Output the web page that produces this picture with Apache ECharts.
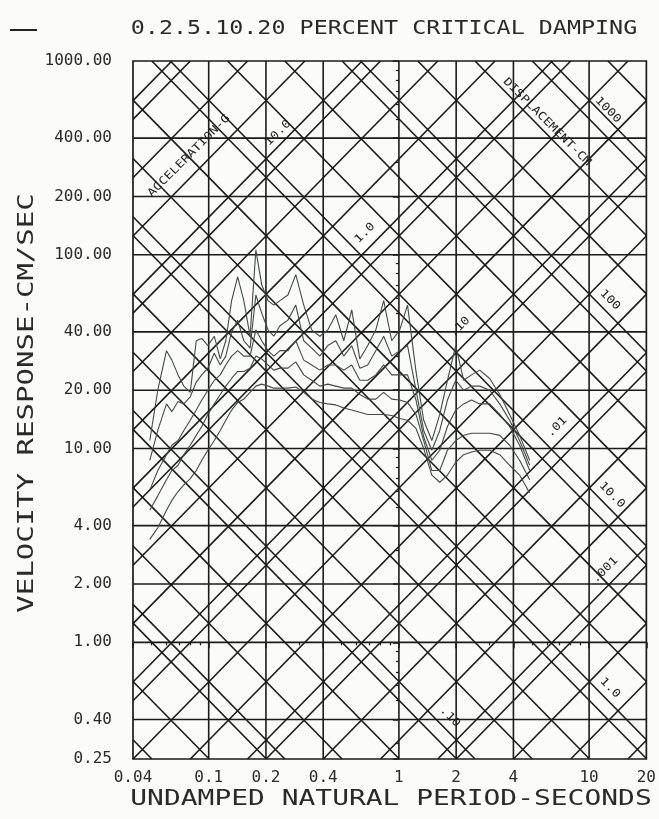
<!DOCTYPE html>
<html>
<head>
<meta charset="utf-8">
<script src="https://cdn.jsdelivr.net/npm/echarts@6/dist/echarts.min.js"></script>
<style>
  html, body { margin: 0; padding: 0; background: #fbfbf8; }
  #chart { width: 659px; height: 819px; }
</style>
</head>
<body>
<div id="chart"></div>
<script>
// 周期 (s)
const periods = [0.049, 0.054, 0.060, 0.064, 0.069, 0.074, 0.080, 0.086, 0.092, 0.099,
  0.107, 0.115, 0.123, 0.132, 0.142, 0.153, 0.165, 0.177, 0.190, 0.205,
  0.220, 0.237, 0.261, 0.287, 0.316, 0.348, 0.384, 0.423, 0.466, 0.513,
  0.565, 0.623, 0.686, 0.756, 0.832, 0.917, 1.01, 1.11, 1.23, 1.35,
  1.49, 1.64, 1.80, 1.99, 2.19, 2.41, 2.66, 3.00, 3.39, 3.82, 4.31, 4.87]

// 速度反应 cm/s, 阻尼 0, 2, 5, 10, 20 %
const damp0 = [11, 20, 32, 28.6, 24, 21, 19.5, 36, 37, 34,
  38, 29, 36, 58, 77, 58, 38, 106, 70, 58,
  55, 58, 62, 79, 55, 41, 38, 41, 49, 36,
  52, 29, 34, 41, 58, 36, 41, 55, 25, 14,
  11, 15, 22.5, 34, 22.5, 24, 25.4, 23, 19, 15, 11.7, 8.7]
const damp2 = [8.7, 12.4, 17, 15.5, 17.5, 17, 18.5, 22, 24, 26,
  31, 27, 30, 40, 46, 36, 33, 62, 50, 41,
  38, 43, 46, 55, 36, 33, 30, 34, 36, 30,
  34, 26, 27, 32, 38, 30, 32, 34, 20, 12.4,
  9.8, 12.4, 17.8, 22.5, 20, 21, 21, 20, 17, 14, 11, 8.2]
const damp5 = [6.1, 7.7, 9.3, 10.4, 11, 12.4, 14, 15.8, 17.8, 20,
  22.5, 24, 27, 30, 32, 30, 30, 41, 36, 32,
  30, 32, 32, 36, 28.6, 27, 25.4, 27, 27, 25.4,
  27, 22.5, 22.5, 24, 27, 24, 24, 24, 17.8, 11.5,
  8.7, 9.8, 13, 15.8, 17, 17.8, 17, 17, 15, 13, 10.4, 7.7]
const damp10 = [4.8, 5.7, 6.9, 7.7, 8.2, 9.3, 10.4, 11.7, 13, 15,
  17, 19, 21, 23, 25, 25, 26, 30, 29, 27,
  25.4, 26, 26, 28, 24, 22.5, 21, 21.5, 21, 20.5,
  20.5, 19, 18, 18, 19.5, 18, 17.8, 17.3, 15, 11,
  7.7, 7.7, 9.8, 11, 11.7, 12, 12, 12, 11.7, 10.4, 8.7, 6.9]
const damp20 = [3.4, 3.9, 4.8, 5.4, 6, 6.5, 7, 7.7, 8.7, 9.8,
  11, 12.4, 14, 15.8, 17.3, 18, 19.5, 21, 21.5, 21,
  20.5, 20.5, 20.5, 20.8, 19.5, 18, 17.3, 17, 16.8, 16.2,
  15.8, 15.4, 15, 15, 15, 14.8, 14.3, 14, 12.7, 10,
  7.3, 6.7, 7.3, 8.5, 9.3, 9.6, 9.8, 9.8, 9.3, 8.2, 7.3, 5.9]

// 刻度
const xTicks = [0.04, 0.1, 0.2, 0.4, 1, 2, 4, 10, 20]
const xTickLabels = ['0.04', '0.1', '0.2', '0.4', '1', '2', '4', '10', '20']
const yTicks = [0.25, 0.4, 1, 2, 4, 10, 20, 40, 100, 200, 400, 1000]
const yTickLabels = ['0.25', '0.40', '1.00', '2.00', '4.00', '10.00', '20.00', '40.00',
  '100.00', '200.00', '400.00', '1000.00']

// 斜线: 位移 cm, 加速度 g (每十倍 1, 2, 4, 8)
const diagSteps = [1, 2, 4, 8]
const dispDecades = [-3, -2, -1, 0, 1, 2, 3]
const accelDecades = [-5, -4, -3, -2, -1, 0, 1, 2]

const L = Math.log10
const TWO_PI = 2 * Math.PI
const G = 981
const xMin = xTicks[0], xMax = xTicks[xTicks.length - 1]
const yMin = yTicks[0], yMax = yTicks[yTicks.length - 1]
const INK = '#1b1b1b'
const FONT = 'DejaVu Sans Mono'

// 对数副刻度
function minorTicks (lo, hi) {
  let out = []
  for (let k = -3; k <= 3; k++) {
    [3, 5, 6, 7, 8, 9].forEach(m => {
      let v = m * Math.pow(10, k)
      if (v > lo && v < hi) out.push(v)
    })
  }
  return out
}

function stepValues (decades) {
  let out = []
  decades.forEach(k => diagSteps.forEach(m => out.push(m * Math.pow(10, k))))
  return out
}

function labelFor (v, ticks, labels) {
  for (let i = 0; i < ticks.length; i++) {
    if (Math.abs(L(ticks[i]) - v) < 1e-6) return labels[i]
  }
  return ''
}

function segment (pts) {
  return {
    type: 'line',
    data: pts.map(p => [L(p[0]), L(p[1])]),
    symbol: 'none',
    silent: true,
    z: 2,
    lineStyle: { color: INK, width: 1.6 }
  }
}

let series = []
xTicks.slice(1, -1).forEach(t => series.push(segment([[t, yMin], [t, yMax]])))
yTicks.slice(1, -1).forEach(v => series.push(segment([[xMin, v], [xMax, v]])))
stepValues(dispDecades).forEach(d => {
  let t1 = Math.max(xMin, TWO_PI * d / yMax)
  let t2 = Math.min(xMax, TWO_PI * d / yMin)
  if (t1 < t2) series.push(segment([[t1, TWO_PI * d / t1], [t2, TWO_PI * d / t2]]))
})
stepValues(accelDecades).forEach(a => {
  let k = G * a / TWO_PI
  let t1 = Math.max(xMin, yMin / k)
  let t2 = Math.min(xMax, yMax / k)
  if (t1 < t2) series.push(segment([[t1, k * t1], [t2, k * t2]]))
})

const curves = [
  { name: '0%', values: damp0 },
  { name: '2%', values: damp2 },
  { name: '5%', values: damp5 },
  { name: '10%', values: damp10 },
  { name: '20%', values: damp20 }
]
curves.forEach(c => {
  series.push({
    name: c.name,
    type: 'line',
    data: periods.map((t, i) => [L(t), L(c.values[i])]),
    symbol: 'none',
    silent: true,
    z: 3,
    lineStyle: { color: '#3f4b44', width: 1.1 }
  })
})

function diagText (text, x, y, rot) {
  return {
    type: 'text', x: x, y: y, rotation: rot, scaleX: 1.2, z: 10,
    style: { text: text, fontFamily: FONT, fontSize: 11, fill: '#222', align: 'center', verticalAlign: 'middle' }
  }
}
const UP = Math.PI / 4, DOWN = -Math.PI / 4

let chart = echarts.init(document.getElementById('chart'))
chart.setOption({
  animation: false,
  backgroundColor: '#fbfbf8',
  grid: {
    left: 133, right: 12, top: 61, bottom: 60,
    show: true, borderColor: INK, borderWidth: 1.7, backgroundColor: 'transparent'
  },
  xAxis: [{
    type: 'value', min: L(xMin), max: L(xMax), position: 'bottom',
    axisLine: { show: false },
    splitLine: { show: false },
    axisTick: { show: true, customValues: xTicks.map(L), length: 6, lineStyle: { color: INK, width: 1.5 } },
    axisLabel: {
      customValues: xTicks.map(L),
      formatter: v => labelFor(v, xTicks, xTickLabels),
      margin: 11, color: '#2a2a2a', fontFamily: FONT, fontSize: 16
    }
  }, {
    type: 'value', min: L(xMin), max: L(xMax), position: 'bottom',
    axisLine: { show: false },
    splitLine: { show: false },
    axisTick: { show: true, customValues: minorTicks(xMin, xMax).map(L), length: 3, lineStyle: { color: INK, width: 1.2 } },
    axisLabel: { show: false }
  }],
  yAxis: [{
    type: 'value', min: L(yMin), max: L(yMax), position: 'left',
    axisLine: { show: false },
    splitLine: { show: false },
    axisTick: { show: true, customValues: yTicks.map(L), length: 6, lineStyle: { color: INK, width: 1.5 } },
    axisLabel: {
      customValues: yTicks.map(L),
      formatter: v => labelFor(v, yTicks, yTickLabels),
      margin: 21, color: '#2a2a2a', fontFamily: FONT, fontSize: 16
    }
  }, {
    type: 'value', min: L(yMin), max: L(yMax), position: 'left',
    axisLine: { show: false },
    splitLine: { show: false },
    axisTick: { show: true, customValues: minorTicks(yMin, yMax).map(L), length: 3, lineStyle: { color: INK, width: 1.2 } },
    axisLabel: { show: false }
  }],
  graphic: [
    { type: 'line', shape: { x1: 10, y1: 30, x2: 37, y2: 30 }, style: { stroke: '#222', lineWidth: 2 } },
    {
      type: 'text', x: 384, y: 29, scaleX: 1.23,
      style: { text: '0.2.5.10.20 PERCENT CRITICAL DAMPING', fontFamily: FONT, fontSize: 19, fill: '#2a2a2a', align: 'center', verticalAlign: 'middle' }
    },
    {
      type: 'text', x: 391, y: 799, scaleX: 1.27,
      style: { text: 'UNDAMPED NATURAL PERIOD-SECONDS', fontFamily: FONT, fontSize: 22, fill: '#2a2a2a', align: 'center', verticalAlign: 'middle' }
    },
    {
      type: 'text', x: 27, y: 403, rotation: Math.PI / 2, scaleX: 1.32,
      style: { text: 'VELOCITY RESPONSE-CM/SEC', fontFamily: FONT, fontSize: 22, fill: '#2a2a2a', align: 'center', verticalAlign: 'middle' }
    },
    diagText('ACCELERATION-G', 189, 156, UP),
    diagText('10.0', 278, 133, UP),
    diagText('1.0', 365, 233, UP),
    diagText('.10', 460, 327, UP),
    diagText('.01', 557, 427, UP),
    diagText('.001', 605, 570, UP),
    diagText('DISPLACEMENT-CM', 547, 122, DOWN),
    diagText('1000', 608, 110, DOWN),
    diagText('100', 610, 300, DOWN),
    diagText('10.0', 612, 495, DOWN),
    diagText('1.0', 610, 688, DOWN),
    diagText('.10', 450, 717, DOWN)
  ],
  series: series
})
</script>
</body>
</html>
